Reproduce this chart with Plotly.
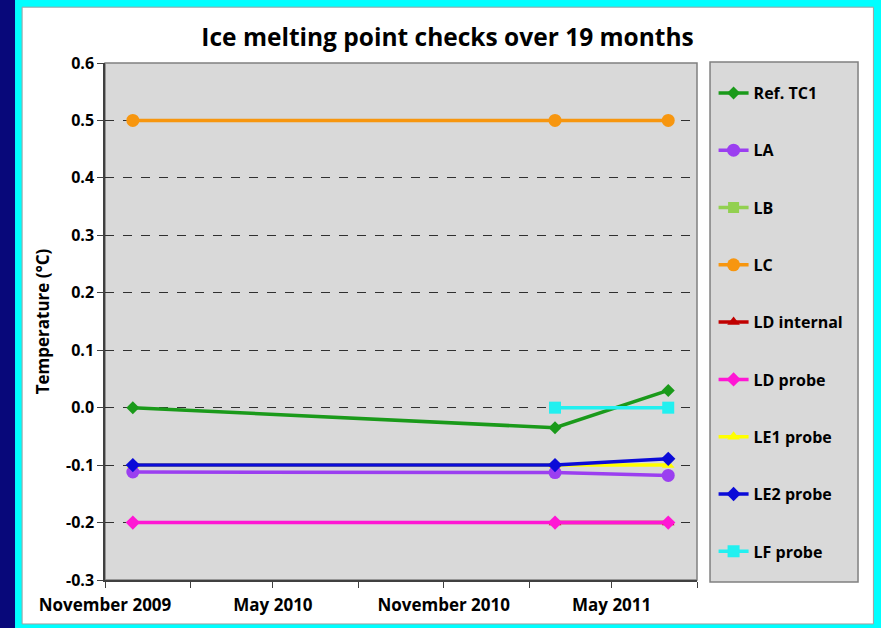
import plotly.graph_objects as go

dates = ['2009-12-01', '2011-03-01', '2011-07-01']

ref_tc1 = [0.0, -0.035, 0.03]
la = [-0.112, -0.113, -0.118]
lb = [None, None, None]
lc = [0.5, 0.5, 0.5]
ld_internal = [None, -0.2, -0.2]
ld_probe = [-0.2, -0.2, -0.2]
le1_probe = [-0.1, -0.1, -0.1]
le2_probe = [-0.1, -0.1, -0.089]
lf_probe = [None, 0.0, 0.0]

x_ticks = ['2009-11-01', '2010-02-01', '2010-05-01', '2010-08-01', '2010-11-01',
           '2011-02-01', '2011-05-01', '2011-08-01']
x_labels = ['November 2009', '', 'May 2010', '', 'November 2010', '', 'May 2011', '']
y_ticks = [0.6, 0.5, 0.4, 0.3, 0.2, 0.1, 0.0, -0.1, -0.2, -0.3]
y_labels = ['0.6', '0.5', '0.4', '0.3', '0.2', '0.1', '0.0', '-0.1', '-0.2', '-0.3']

series = [
    ('Ref. TC1', ref_tc1, '#1a9a1a', 'diamond', 10),
    ('LA', la, '#9b3ff0', 'circle', 13),
    ('LB', lb, '#92d050', 'square', 11),
    ('LC', lc, '#f7960f', 'circle', 13),
    ('LD internal', ld_internal, '#c00000', 'triangle-up', 11),
    ('LD probe', ld_probe, '#ff17d4', 'diamond', 11),
    ('LE1 probe', le1_probe, '#ffff00', 'triangle-up', 11),
    ('LE2 probe', le2_probe, '#0b0bd8', 'diamond', 11),
    ('LF probe', lf_probe, '#22f0f0', 'square', 12),
]

font = 'Open Sans'

fig = go.Figure()
# draw order so that LC / LE2 / LD probe sit on top like the reference
draw_order = [2, 4, 6, 1, 7, 5, 3, 0, 8]
for i in draw_order:
    name, y, color, symbol, size = series[i]
    fig.add_trace(go.Scatter(x=dates, y=y, name=name, mode='lines+markers',
                             line=dict(color=color, width=3.5),
                             marker=dict(symbol=symbol, size=size, color=color),
                             legendgroup=name, legendrank=i + 1))

fig.update_layout(
    width=881, height=628,
    margin=dict(l=105, r=184, t=63, b=48),
    paper_bgcolor='#08087a',
    plot_bgcolor='rgba(0,0,0,0)',
    font=dict(family=font, color='black'),
    title=dict(text='<b>Ice melting point checks over 19 months</b>',
               x=0.508, xanchor='center', y=0.94, yanchor='middle',
               font=dict(size=24.5, color='black', family=font)),
    legend=dict(x=1.028, xanchor='left', y=1.0, yanchor='top',
                bgcolor='rgba(0,0,0,0)', borderwidth=0,
                font=dict(size=16, family=font, color='black', weight='bold'),
                title=dict(text=' ', font=dict(size=10)),
                tracegroupgap=33.5, itemwidth=30, traceorder='grouped',
                maxheight=600),
    shapes=[
        dict(type='rect', xref='paper', yref='paper', x0=-0.152, x1=1.311,
             y0=-0.093, y1=1.122, fillcolor='#00ffff', line_width=0, layer='below'),
        dict(type='rect', xref='paper', yref='paper', x0=-0.140, x1=1.298,
             y0=-0.085, y1=1.108, fillcolor='white', line=dict(color='#a0a0a0', width=1),
             layer='below'),
        dict(type='rect', xref='paper', yref='paper', x0=0, x1=1, y0=0, y1=1,
             fillcolor='#d9d9d9', line=dict(color='#808080', width=1.5), layer='below'),
        # legend box
        dict(type='rect', xref='paper', yref='paper', x0=1.022, x1=1.272,
             y0=-0.004, y1=1.002, fillcolor='#d9d9d9',
             line=dict(color='#808080', width=1.5), layer='below'),
    ],
)

fig.update_xaxes(
    type='date', range=['2009-11-01', '2011-08-01'],
    tickvals=x_ticks, ticktext=x_labels,
    showgrid=False, zeroline=False,
    showline=True, linecolor='#404040', linewidth=1.5,
    ticks='outside', ticklen=6, tickcolor='#404040', ticklabelstandoff=3,
    tickfont=dict(size=17, family=font, color='black', weight='bold'),
)
fig.update_yaxes(
    range=[-0.3, 0.6],
    tickvals=y_ticks, ticktext=y_labels,
    showgrid=True, gridcolor='#303030', griddash='dash', gridwidth=1,
    zeroline=False,
    showline=True, linecolor='#404040', linewidth=1.5,
    ticks='outside', ticklen=6, tickcolor='#404040',
    tickfont=dict(size=16, family=font, color='black', weight='bold'),
    title=dict(text='<b>Temperature (°C)</b>', standoff=12,
               font=dict(size=17, family=font, color='black')),
)

fig.write_html('out.html', config={'displayModeBar': False},
               post_script="document.body.style.margin='0';")
